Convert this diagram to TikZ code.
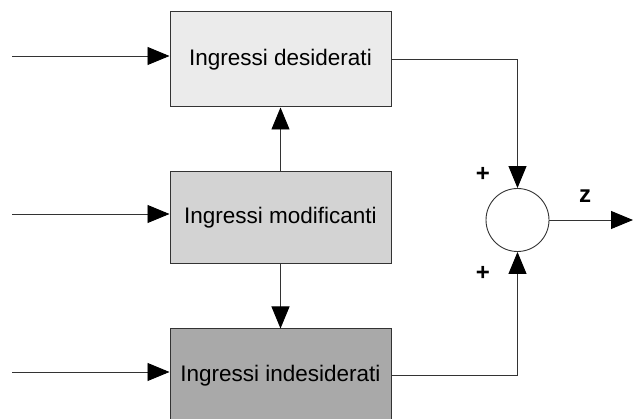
\documentclass[tikz,border=0pt]{standalone}
\usepackage{fontspec}
\setmainfont{Liberation Sans}
\usetikzlibrary{arrows.meta}
\definecolor{grigiochiaro}{HTML}{EBEBEB}
\definecolor{grigiomedio}{HTML}{D3D3D3}
\definecolor{grigioscuro}{HTML}{A9A9A9}
\definecolor{bordo}{HTML}{333333}
\tikzset{
  blocco/.style={draw=bordo,line width=1pt,minimum width=221pt,inner sep=0pt,font=\fontsize{22.5}{26}\selectfont},
  freccia/.style={draw=bordo,line width=0.9pt,-{Triangle[length=22pt,width=18pt,fill=black,color=black]}},
  segno/.style={font=\fontsize{24}{28}\selectfont\bfseries},
}
\begin{document}
\begin{tikzpicture}[x=1pt,y=-1pt]
    \useasboundingbox (0,0) rectangle (633,419);
    % blocchi
    \node[blocco,fill=grigiochiaro,minimum height=95pt](des)at(280.5,59.5){Ingressi desiderati};
    \node[blocco,fill=grigiomedio,minimum height=92pt](mod)at(280.5,218){Ingressi modificanti};
    \node[blocco,fill=grigioscuro,minimum height=94pt](ind)at(280.5,376){Ingressi indesiderati};
    % nodo sommatore
    \node[draw=bordo,fill=white,circle,line width=0.9pt,minimum size=63pt,inner sep=0pt](somma)at(517.5,220){};
    % ingressi
    \coordinate(inA)at(12,56);
    \coordinate(inB)at(12,214);
    \coordinate(inC)at(12,372);
    \draw[freccia](inA)--(inA-|des.west);
    \draw[freccia](inB)--(inB-|mod.west);
    \draw[freccia](inC)--(inC-|ind.west);
    % collegamenti verticali
    \draw[freccia](mod.north)--(des.south);
    \draw[freccia](mod.south)--(ind.north);
    % verso il sommatore
    \draw[freccia](des.east)-|(somma.north);
    \draw[freccia](ind.east|-0,375)-|(somma.south);
    % uscita
    \coordinate(out)at(633,220);
    \draw[freccia](somma.east)--(out);
    % segni e etichetta
    \node[segno](piu1)at(483,174){+};
    \node[segno](piu2)at(483,273){+};
    \node[segno](zeta)at(585,196){z};
\end{tikzpicture}
\end{document}
